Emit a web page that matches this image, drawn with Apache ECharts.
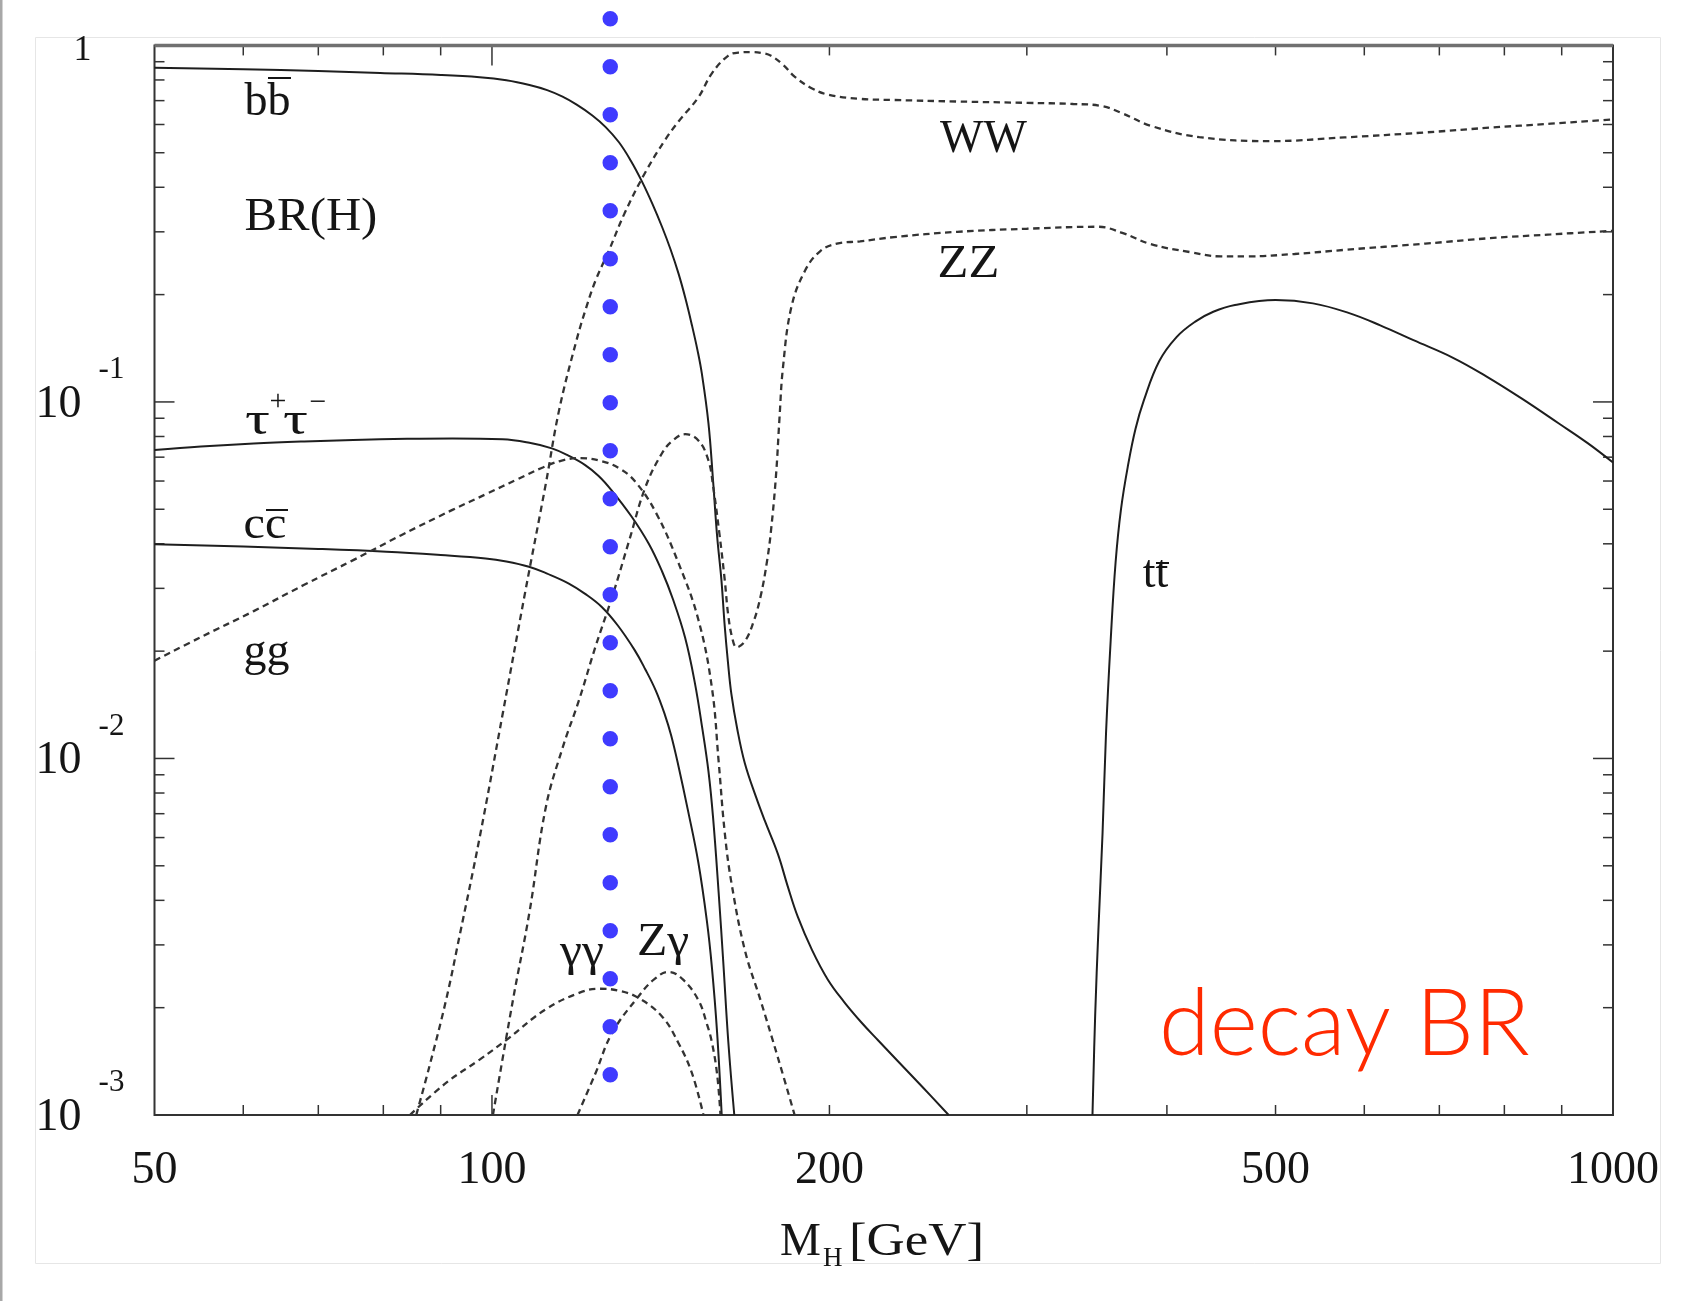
<!DOCTYPE html>
<html>
<head>
<meta charset="utf-8">
<script src="https://cdn.jsdelivr.net/npm/echarts@6/dist/echarts.min.js"></script>
<style>
html,body{margin:0;padding:0;background:#fff;}
#chart{width:1694px;height:1301px;}
</style>
</head>
<body>
<div id="chart"></div>
<script>
// ---------- data (M_H in GeV, branching ratio) ----------
const bbData = [[50,0.865],[60,0.857],[70,0.848],[79.5,0.837],[90,0.826],[97.5,0.814],[103,0.798],[108,0.774],[112,0.749],[115.6,0.718],[119,0.682],[122.9,0.636],[126.3,0.59],[129.8,0.535],[133,0.475],[136.1,0.415],[139,0.36],[141.8,0.31],[144.3,0.268],[146.7,0.229],[148.8,0.195],[150.8,0.164],[152.5,0.14],[153.9,0.12],[156,0.0871],[157.5,0.0598],[158.8,0.042],[160.2,0.0317],[161.3,0.0235],[162.4,0.0185],[163.5,0.0152],[165.5,0.0121],[168.1,0.0097],[172,0.0078],[175.1,0.0067],[179.9,0.0054],[183.5,0.0044],[187.4,0.0036],[193,0.0029],[199.3,0.0024],[206,0.00208],[213.5,0.00182],[221,0.00162],[230,0.00142],[242,0.0012],[255.5,0.001]];
const tautauData = [[50,0.0733],[55,0.075],[61.3,0.0765],[68,0.0775],[75.2,0.0782],[84,0.0788],[92.2,0.079],[102.2,0.0786],[108,0.0768],[113.1,0.0741],[117,0.0707],[121.1,0.0665],[124.5,0.062],[127.8,0.0566],[133.2,0.0477],[138,0.040],[141.8,0.0335],[145,0.028],[148.7,0.0218],[151.7,0.0163],[154,0.0122],[156,0.0092],[157.5,0.0068],[159.3,0.0042],[160.8,0.0027],[162.5,0.0016],[164.5,0.001]];
const ccData = [[50,0.0399],[60,0.0393],[70,0.0387],[80.5,0.038],[90,0.0372],[98.7,0.0364],[103,0.0357],[107.9,0.0345],[112,0.033],[117,0.031],[121,0.029],[125.3,0.0266],[129.5,0.0236],[134.1,0.0201],[137,0.0178],[140,0.0155],[142.6,0.0133],[144.5,0.0116],[146.7,0.0095],[149.5,0.0072],[152.8,0.0051],[155.5,0.0035],[157.1,0.0026],[158.8,0.0017],[160.3,0.001]];
const ggData = [[50,0.0188],[55,0.0219],[61.3,0.0259],[68,0.0307],[75.2,0.036],[83,0.0423],[92.2,0.0498],[99,0.0553],[105.5,0.0608],[111,0.0655],[115.4,0.0685],[120,0.0696],[125.3,0.0682],[130,0.065],[134.2,0.0598],[140,0.049],[146.7,0.0353],[152.8,0.0245],[157.1,0.0158],[159.3,0.0098],[161.3,0.0062],[163.5,0.0045],[168.1,0.0029],[173.6,0.0021],[179.9,0.00145],[186.2,0.001]];
const wwData = [[85.6,0.001],[88,0.00138],[91,0.0021],[93.6,0.0032],[97.5,0.006],[102.3,0.0135],[107,0.029],[111.7,0.059],[114.8,0.095],[118.9,0.148],[121.3,0.183],[123.7,0.219],[127.1,0.265],[131.3,0.338],[137,0.44],[142.7,0.543],[146.7,0.612],[152.8,0.715],[157.1,0.835],[162.4,0.935],[166,0.955],[170.5,0.958],[174,0.952],[177.4,0.935],[182,0.88],[186.2,0.817],[192.6,0.76],[199.3,0.728],[212.9,0.708],[228.4,0.703],[260,0.696],[300,0.69],[330,0.685],[350,0.676],[365,0.645],[387,0.595],[427.5,0.553],[496,0.539],[576,0.552],[680,0.57],[777,0.588],[880,0.603],[1000,0.62]];
const zzData = [[100.2,0.001],[104.4,0.0021],[108,0.0037],[111.7,0.0073],[115.6,0.0107],[119.6,0.0146],[123.7,0.0206],[128,0.0284],[132.6,0.041],[137,0.0575],[141.8,0.0718],[145,0.078],[148.7,0.0812],[152.8,0.078],[156,0.0685],[157.5,0.058],[159.5,0.043],[161.3,0.0317],[162.4,0.0255],[163.8,0.0218],[165.3,0.0205],[168.1,0.0213],[171,0.024],[173.6,0.0284],[176,0.036],[177.4,0.0437],[179.2,0.062],[180.5,0.09],[181.8,0.125],[185,0.185],[190.3,0.234],[196.3,0.265],[203.1,0.278],[213,0.282],[228.4,0.29],[260,0.3],[300,0.306],[347,0.31],[365,0.298],[387,0.277],[420,0.263],[447,0.256],[472,0.256],[520,0.26],[576,0.267],[680,0.278],[777,0.288],[880,0.295],[1000,0.302]];
const gamgamData = [[84.5,0.001],[91,0.00123],[97.5,0.00143],[102.9,0.00162],[111.7,0.00198],[119.6,0.0022],[124.6,0.00226],[130,0.00223],[135.1,0.00213],[141.8,0.00189],[146.7,0.00159],[150.8,0.00131],[154.4,0.001]];
const zgamData = [[119.2,0.001],[123.7,0.00131],[128,0.0017],[135.1,0.00215],[139.5,0.0024],[143.7,0.00252],[148,0.0024],[152.8,0.0021],[155.5,0.0018],[157.1,0.0016],[158.8,0.0013],[159.9,0.001]];
const ttData = [[343.3,0.001],[345.2,0.0019],[347.5,0.0033],[350.5,0.0062],[353,0.0118],[356.4,0.0215],[360,0.0355],[364,0.05],[369.5,0.067],[375,0.084],[381.5,0.101],[393.7,0.13],[408,0.152],[424,0.168],[440,0.179],[460,0.187],[500,0.193],[540,0.189],[580,0.178],[620,0.164],[663.7,0.149],[720,0.133],[770.8,0.118],[830,0.102],[894.8,0.087],[950,0.0765],[1000,0.0676]];
const higgsMarker = [[127.5, 1.188], [127.5, 0.00128]];

// ---------- ticks ----------
const xTickLabels = [50, 100, 200, 500, 1000];
const xMinorTicks = [60, 70, 80, 90, 200, 300, 400, 500, 600, 700, 800, 900];
const xMajorTicks = [100];
const yTickValues = [1, 0.1, 0.01, 0.001];
const yTickText = ['1', '10', '10', '10'];
const yTickSup = ['', '-1', '-2', '-3'];
const yMinorTicks = [0.002,0.003,0.004,0.005,0.006,0.007,0.008,0.009,
                     0.02,0.03,0.04,0.05,0.06,0.07,0.08,0.09,
                     0.2,0.3,0.4,0.5,0.6,0.7,0.8,0.9];
const yMajorTicks = [0.1, 0.01];

const SERIF = '"Liberation Serif", "Times New Roman", Times, serif';
const INK = '#151515';
const X_MIN = 50, Y_MIN = 0.001;

function solid(name, data) {
  return { name, type: 'line', data, symbol: 'none', showSymbol: false,
    smooth: 0.4, silent: true, clip: true,
    lineStyle: { color: '#1e1e1e', width: 2 }, z: 3 };
}
function dashed(name, data) {
  return { name, type: 'line', data, symbol: 'none', showSymbol: false,
    smooth: 0.4, silent: true, clip: true,
    lineStyle: { color: '#333333', width: 2.3, type: [6.5, 4.5] }, z: 3 };
}
function txt(opts) {
  const s = Object.assign({ fill: INK }, opts);
  s.textAlign = s.align; s.textVerticalAlign = s.verticalAlign;
  return s;
}
function xTicks(len) {
  return {
    type: 'custom', silent: true, clip: false, encode: { x: 0, y: 1 },
    renderItem: function (params, api) {
      const cs = params.coordSys;
      const x = api.coord([api.value(0), Y_MIN])[0];
      const st = { stroke: '#333', lineWidth: 1.5 };
      return { type: 'group', children: [
        { type: 'line', shape: { x1: x, y1: cs.y + cs.height, x2: x, y2: cs.y + cs.height - len }, style: st },
        { type: 'line', shape: { x1: x, y1: cs.y, x2: x, y2: cs.y + len }, style: st }
      ]};
    }
  };
}
function yTicks(len) {
  return {
    type: 'custom', silent: true, clip: false, encode: { x: 0, y: 1 },
    renderItem: function (params, api) {
      const cs = params.coordSys;
      const y = api.coord([X_MIN, api.value(1)])[1];
      const st = { stroke: '#333', lineWidth: 1.5 };
      return { type: 'group', children: [
        { type: 'line', shape: { x1: cs.x, y1: y, x2: cs.x + len, y2: y }, style: st },
        { type: 'line', shape: { x1: cs.x + cs.width, y1: y, x2: cs.x + cs.width - len, y2: y }, style: st }
      ]};
    }
  };
}

const xMinorSeries = Object.assign(xTicks(10), { data: xMinorTicks.map(v => [v, Y_MIN]) });
const xMajorSeries = Object.assign(xTicks(20), { data: xMajorTicks.map(v => [v, Y_MIN]) });
const yMinorSeries = Object.assign(yTicks(10), { data: yMinorTicks.map(v => [X_MIN, v]) });
const yMajorSeries = Object.assign(yTicks(20), { data: yMajorTicks.map(v => [X_MIN, v]) });

const xLabelSeries = {
  type: 'custom', silent: true, clip: false, encode: { x: 0, y: 1 },
  data: xTickLabels.map(v => [v, Y_MIN]),
  renderItem: function (params, api) {
    const cs = params.coordSys;
    const x = api.coord([api.value(0), Y_MIN])[0];
    return { type: 'text', x: x, y: cs.y + cs.height + 56,
      style: txt({ text: String(xTickLabels[params.dataIndex]), font: '46px ' + SERIF, align: 'center', verticalAlign: 'middle' }) };
  }
};
const yLabelSeries = {
  type: 'custom', silent: true, clip: false, encode: { x: 0, y: 1 },
  data: yTickValues.map(v => [X_MIN, v]),
  renderItem: function (params, api) {
    const cs = params.coordSys;
    const i = params.dataIndex;
    const y = api.coord([X_MIN, api.value(1)])[1];
    if (!yTickSup[i]) {
      return { type: 'text', x: cs.x - 72, y: y + 5,
        style: txt({ text: yTickText[i], font: '36px ' + SERIF, align: 'center', verticalAlign: 'middle' }) };
    }
    return { type: 'group', children: [
      { type: 'text', x: cs.x - 73, y: y + 2.5,
        style: txt({ text: yTickText[i], font: '46px ' + SERIF, align: 'right', verticalAlign: 'middle' }) },
      { type: 'text', x: cs.x - 43, y: y - 32,
        style: txt({ text: yTickSup[i], font: '31px ' + SERIF, align: 'center', verticalAlign: 'middle' }) }
    ]};
  }
};

// annotation text helper: left x, baseline y
function label(str, left, baseline, size, sx) {
  return { type: 'text', x: left, y: baseline - 0.3375 * size, z: 20, scaleX: sx || 1,
    style: txt({ text: str, x: 0, y: 0, font: size + 'px ' + SERIF, align: 'left', verticalAlign: 'middle' }) };
}
function centered(str, cx, cy, size) {
  return { type: 'text', x: cx, y: cy, z: 20,
    style: txt({ text: str, font: size + 'px ' + SERIF, align: 'center', verticalAlign: 'middle' }) };
}
function bar(x1, x2, y) {
  return { type: 'line', z: 20, shape: { x1: x1, y1: y, x2: x2, y2: y }, style: { stroke: INK, lineWidth: 2 } };
}

const chart = echarts.init(document.getElementById('chart'), null, { renderer: 'canvas' });
chart.setOption({
  animation: false,
  backgroundColor: '#ffffff',
  grid: { left: 154.5, top: 45.4, width: 1458.5, height: 1069.6, show: true,
          borderColor: '#333', borderWidth: 2, backgroundColor: 'transparent' },
  xAxis: { type: 'log', logBase: 10, min: 50, max: 1000,
    axisLine: { show: false }, axisTick: { show: false }, axisLabel: { show: false }, splitLine: { show: false } },
  yAxis: { type: 'log', logBase: 10, min: 0.001, max: 1,
    axisLine: { show: false }, axisTick: { show: false }, axisLabel: { show: false }, splitLine: { show: false } },
  graphic: [
    { type: 'rect', z: -10, shape: { x: 35.5, y: 37.5, width: 1625, height: 1226 }, style: { fill: null, stroke: '#e6e6e6', lineWidth: 1 } },
    { type: 'rect', z: -10, shape: { x: 0, y: 0, width: 2.5, height: 1301 }, style: { fill: '#a8a8a8' } },
    { type: 'line', z: 5, shape: { x1: 154.5, y1: 45.4, x2: 1613, y2: 45.4 }, style: { stroke: '#707070', lineWidth: 3.5 } },
    label('bb', 244.6, 118, 46), bar(268, 291, 78),
    label('BR(H)', 244.6, 233.5, 46, 1.06),
    label('τ', 245, 437, 46, 1.35), centered('+', 278, 402, 30),
    label('τ', 283, 437, 46, 1.35), centered('−', 318, 403, 30),
    label('cc', 243.5, 541.5, 46, 1.05), bar(266, 288, 510),
    label('gg', 243.5, 668, 46),
    label('WW', 940, 155, 46),
    label('ZZ', 937.6, 280, 46, 1.1),
    label('tt', 1142.7, 590, 46), bar(1156, 1169, 563),
    label('γγ', 560, 968, 46, 1.08),
    label('Zγ', 637, 958, 46, 1.08),
    label('M', 780, 1258, 46),
    label('H', 823, 1268, 27),
    label('[GeV]', 849, 1258, 46, 1.15),
    { type: 'text', x: 1159, y: 1061 - 0.387 * 92, z: 20,
      style: txt({ text: 'decay BR', font: '300 92px Lato, "Open Sans", sans-serif', fill: '#ff2a00', align: 'left', verticalAlign: 'middle' }) }
  ],
  series: [
    solid('bb̄', bbData),
    solid('τ+τ−', tautauData),
    solid('cc̄', ccData),
    solid('tt̄', ttData),
    dashed('gg', ggData),
    dashed('WW', wwData),
    dashed('ZZ', zzData),
    dashed('γγ', gamgamData),
    dashed('Zγ', zgamData),
    { name: 'M_H marker', type: 'line', data: higgsMarker, symbol: 'none', showSymbol: false,
      silent: true, clip: false, z: 10,
      lineStyle: { color: '#3f3bff', width: 15.5, type: [0.01, 47.99], cap: 'round' } },
    xMinorSeries, xMajorSeries, yMinorSeries, yMajorSeries, xLabelSeries, yLabelSeries
  ]
});
</script>
</body>
</html>
